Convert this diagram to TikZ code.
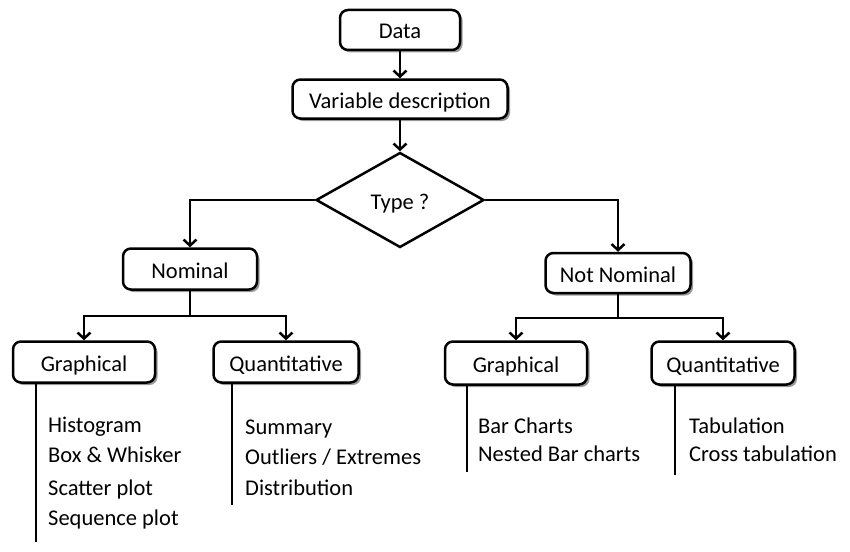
\documentclass[tikz,border=0pt]{standalone}
\usepackage{fontspec}
\setmainfont{Carlito}
\usetikzlibrary{shapes.geometric,shadows,arrows.meta}
\begin{document}
\begin{tikzpicture}[x=1pt,y=-1pt,
  txt/.style={font=\fontsize{22.5}{27}\selectfont, text=black},
  box/.style={txt, draw=black, line width=2.5pt, rounded corners=8pt, fill=white,
    inner sep=0pt, text height=18pt, text depth=0pt,
    drop shadow={shadow xshift=2.5pt, shadow yshift=-2.5pt, fill=black!40, opacity=1}},
  dia/.style={txt, diamond, draw=black, line width=2.5pt, fill=white, inner sep=0pt,
    text height=18pt, text depth=0pt,
    minimum width=168pt, minimum height=95pt},
  conn/.style={line width=2.5pt, draw=black},
  arr/.style={conn, -{Straight Barb[length=6pt,width=13pt]}},
  item/.style={txt, anchor=base west, inner sep=0pt}]
\useasboundingbox (0,0) rectangle (850,551);

\node[box, minimum width=120pt, minimum height=40pt] (data) at (400,30) {Data};
\node[box, minimum width=215pt, minimum height=39pt] (var) at (400,99) {Variable description};
\node[dia] (type) at (400,200) {Type ?};
\node[box, minimum width=134pt, minimum height=41pt] (nom) at (190,269) {Nominal};
\node[box, minimum width=145pt, minimum height=40pt] (nn) at (618,273) {Not Nominal};
\node[box, minimum width=142pt, minimum height=41pt] (gl) at (84,362) {Graphical};
\node[box, minimum width=145pt, minimum height=41pt] (ql) at (286,362) {Quantitative};
\node[box, minimum width=142pt, minimum height=43pt] (gr) at (516,363) {Graphical};
\node[box, minimum width=143pt, minimum height=43pt] (qr) at (723,363) {Quantitative};

\draw[arr] (data) -- (var);
\draw[arr] (var) -- (type);
\draw[arr] (type.west) -| (nom.north);
\draw[arr] (type.east) -| (nn.north);

\coordinate (nj) at (190,316);
\draw[conn] (nom.south) -- (nj);
\draw[arr] (nj) -| (gl.north);
\draw[arr] (nj) -| (ql.north);

\coordinate (nnj) at (618,318);
\draw[conn] (nn.south) -- (nnj);
\draw[arr] (nnj) -| (gr.north);
\draw[arr] (nnj) -| (qr.north);

\coordinate (gle) at (36,542);
\coordinate (qle) at (232,505);
\coordinate (gre) at (467,472);
\coordinate (qre) at (675,475);
\draw[conn] (gle |- gl.south) -- (gle);
\draw[conn] (qle |- ql.south) -- (qle);
\draw[conn] (gre |- gr.south) -- (gre);
\draw[conn] (qre |- qr.south) -- (qre);

\node[item] (h1) at (48,432) {Histogram};
\node[item] (h2) at (48,462) {Box \& Whisker};
\node[item] (h3) at (48,495) {Scatter plot};
\node[item] (h4) at (48,525) {Sequence plot};

\node[item] (s1) at (245,434) {Summary};
\node[item] (s2) at (245,464) {Outliers / Extremes};
\node[item] (s3) at (245,495) {Distribution};

\node[item] (b1) at (478,433) {Bar Charts};
\node[item] (b2) at (478,461) {Nested Bar charts};

\node[item] (t1) at (689,433) {Tabulation};
\node[item] (t2) at (689,461) {Cross tabulation};
\end{tikzpicture}
\end{document}
